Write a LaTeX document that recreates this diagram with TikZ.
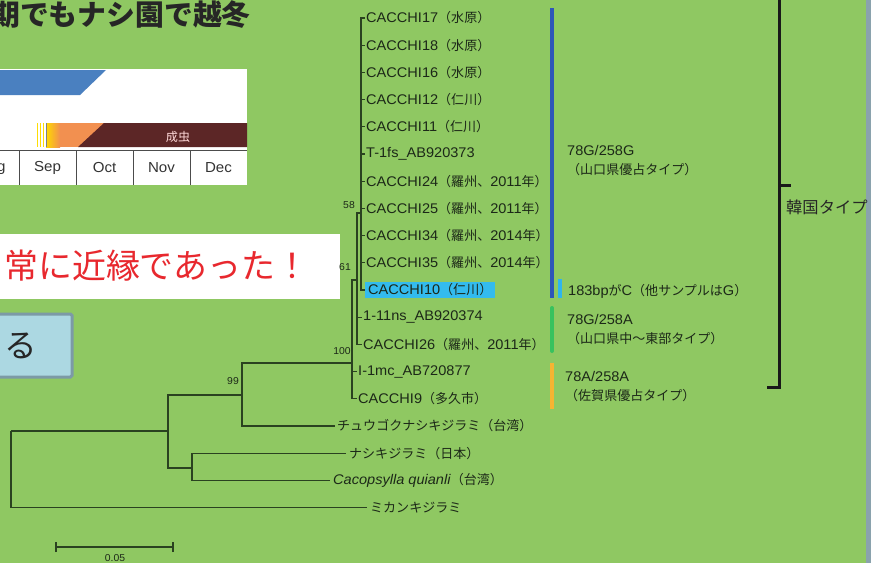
\documentclass[tikz,border=0pt]{standalone}
\usepackage{fontspec}
\setmainfont{Liberation Sans}[FakeStretch=1.04]
\newfontfamily\jp{Noto Sans CJK JP}[Scale=0.93]
\newcommand{\J}[1]{{\jp #1}}
\definecolor{bg}{HTML}{8FC862}
\definecolor{treec}{HTML}{2A4220}
\definecolor{txtc}{HTML}{1C2818}
\definecolor{barblue}{HTML}{2E56B8}
\definecolor{barcyan}{HTML}{2FB5EE}
\definecolor{bargreen}{HTML}{38C25E}
\definecolor{barorange}{HTML}{F5B432}
\definecolor{hl}{HTML}{33BBEE}
\definecolor{chblue}{HTML}{4A80C0}
\definecolor{chbrown}{HTML}{5C2626}
\definecolor{chorange}{HTML}{F29050}
\definecolor{redtxt}{HTML}{E8282E}
\definecolor{boxfill}{HTML}{ACD8E2}
\definecolor{boxedge}{HTML}{7C9AA6}
\definecolor{strip}{HTML}{8AA2AD}
\begin{document}
\begin{tikzpicture}[x=1pt,y=-1pt,
  tree/.style={draw=treec, line width=1.3pt},
  leaf/.style={anchor=west, inner sep=0pt, text=txtc, font=\fontsize{14}{16}\selectfont},
  boot/.style={inner sep=0pt, text=txtc, font=\fontsize{10}{12}\selectfont},
  rlabel/.style={anchor=west, inner sep=0pt, text=txtc, align=left, font=\fontsize{14}{19}\selectfont},
  month/.style={inner sep=0pt, text=black!80, font=\fontsize{14.5}{16}\selectfont},
  tbar/.style={line width=4pt}]
\useasboundingbox (0,0) rectangle (881,563);
\clip (0,0) rectangle (881,563);
% background
\fill[bg] (0,0) rectangle (881,563);
\fill[strip] (866,0) rectangle (871,563);
\fill[white] (871,0) rectangle (881,563);

% title
\node[anchor=west, inner sep=0pt, text=black!85, font=\jp\bfseries\fontsize{31}{33}\selectfont] (title) at (-9,15) {期でもナシ園で越冬};

% chart
\fill[white] (0,69) rectangle (247,185);
\fill[chblue] (0,70) -- (106,70) -- (80,95) -- (0,95) -- cycle;
\shade[left color=yellow!70!orange, right color=chorange] (46,123) rectangle (60,147);
\fill[chorange] (60,123) rectangle (110,147);
\fill[chbrown] (104,123) -- (247,123) -- (247,147) -- (78,147) -- cycle;
\draw[yellow!80!orange, line width=0.8pt] (37,123) -- (37,147) (40,123) -- (40,147) (43,123) -- (43,147);
\draw[gray, line width=0.8pt] (46,123) -- (46,147);
\node[text=red!15, inner sep=0pt, font=\jp\fontsize{13}{14}\selectfont] (seichu) at (178,137) {成虫};
\draw[black!70, line width=0.8pt] (0,150) -- (247,150);
\foreach \xx in {19,76,133,190} \draw[black!70, line width=1pt] (\xx,150) -- (\xx,185);
\node[month] (mAug) at (-8,168) {Aug};
\node[month] (mSep) at (47.5,168) {Sep};
\node[month] (mOct) at (104.5,168) {Oct};
\node[month] (mNov) at (161.5,168) {Nov};
\node[month] (mDec) at (218.5,168) {Dec};

% red message box
\fill[white] (0,234) rectangle (340,299);
\node[anchor=west, inner sep=0pt, text=redtxt, font=\jp\fontsize{36.5}{38}\selectfont] (msg) at (4,266) {常に近縁であった！};

% light blue box
\draw[fill=boxfill, draw=boxedge, line width=3pt, rounded corners=1.5pt] (-10,314) rectangle (72,377);
\node[inner sep=0pt, text=black!85, font=\jp\fontsize{35}{36}\selectfont] (ru) at (21,346) {る};

% leaves
\foreach \k/\lab in {0/CACCHI17\J{（水原）},1/CACCHI18\J{（水原）},2/CACCHI16\J{（水原）},3/CACCHI12\J{（仁川）},4/CACCHI11\J{（仁川）},5/T-1fs\_AB920373,6/CACCHI24\J{（羅州、}2011\J{年）},7/CACCHI25\J{（羅州、}2011\J{年）},8/CACCHI34\J{（羅州、}2014\J{年）},9/CACCHI35\J{（羅州、}2014\J{年）}}
  \node[leaf] (l\k) at (366,18+27.2*\k) {\lab};
\node[leaf, fill=hl, inner xsep=3pt, inner ysep=2pt] (l10) at (365,290) {CACCHI10\J{（仁川）}};
\node[leaf] (l11) at (363,317.2) {1-11ns\_AB920374};
\node[leaf] (l12) at (363,344.4) {CACCHI26\J{（羅州、}2011\J{年）}};
\node[leaf] (l13) at (358,371.6) {I-1mc\_AB720877};
\node[leaf] (l14) at (358,398.8) {CACCHI9\J{（多久市）}};
\node[leaf] (l15) at (337,426) {\J{チュウゴクナシキジラミ（台湾）}};
\node[leaf] (l16) at (349,453.2) {\J{ナシキジラミ（日本）}};
\node[leaf] (l17) at (333,480.4) {\textit{Cacopsylla quianli}\J{（台湾）}};
\node[leaf] (l18) at (370,507.6) {\J{ミカンキジラミ}};

% internal nodes
\coordinate (root) at (11,431);
\coordinate (nA) at (168,431);
\coordinate (n99) at (242,395);
\coordinate (nB) at (192,468);
\coordinate (n100) at (352,363);
\coordinate (n58) at (357,280);
\coordinate (npoly) at (361,213);

\draw[tree] (root) |- (nA);
\draw[tree] (root) |- ([xshift=-3pt]l18.west);
\draw[tree] (nA) |- (n99);
\draw[tree] (nA) |- (nB);
\draw[tree] (nB) |- ([xshift=-3pt]l16.west);
\draw[tree] (nB) |- ([xshift=-3pt]l17.west);
\draw[tree] (n99) |- (n100);
\draw[tree] (n99) |- ([xshift=-2pt]l15.west);
\draw[tree] (n100) |- (n58);
\draw[tree] (n100) |- ([xshift=-1pt]l13.west);
\draw[tree] (n100) |- ([xshift=-1pt]l14.west);
\draw[tree] (n58) |- (npoly);
\draw[tree] (n58) |- ([xshift=-1pt]l11.west);
\draw[tree] (n58) |- ([xshift=-1pt]l12.west);
\foreach \k in {0,...,9} \draw[tree] (npoly) |- ([xshift=-1pt]l\k.west);
\draw[tree] (npoly) |- (l10.west);

% bootstrap values
\node[boot] (b58) at (349,205) {58};
\node[boot] (b61) at (345,267) {61};
\node[boot] (b100) at (342,351) {100};
\node[boot] (b99) at (233,381) {99};

% scale bar
\coordinate (sbL) at (56,547);
\coordinate (sbR) at (173,547);
\draw[treec, line width=1.3pt] (sbL) -- (sbR);
\draw[treec, line width=1.3pt] ([yshift=-5pt]sbL) -- ([yshift=5pt]sbL);
\draw[treec, line width=1.3pt] ([yshift=-5pt]sbR) -- ([yshift=5pt]sbR);
\node[boot] (sblab) at (115,558) {0.05};

% colour bars
\draw[tbar, barblue] (552,8) -- (552,298);
\draw[tbar, barcyan] (560,279) -- (560,298);
\draw[tbar, bargreen, line cap=round] (552,308) -- (552,351);
\draw[tbar, barorange] (552,363) -- (552,409);

% right labels
\node[rlabel] (t1) at (567,161) {78G/258G\\\J{（山口県優占タイプ）}};
\node[rlabel] (t2) at (568,291) {183bp\J{が}C\J{（他サンプルは}G\J{）}};
\node[rlabel] (t3) at (567,330) {78G/258A\\\J{（山口県中～東部タイプ）}};
\node[rlabel] (t4) at (565,387) {78A/258A\\\J{（佐賀県優占タイプ）}};

% bracket
\draw[black!90, line width=3pt] (767,387) -- (779,387) -- (779,-5);
\draw[black!90, line width=3pt] (779,185) -- (791,185);
\node[anchor=west, inner sep=0pt, text=black!85, font=\jp\fontsize{17.5}{19}\selectfont] (korea) at (786,207) {韓国タイプ};
\end{tikzpicture}
\end{document}
